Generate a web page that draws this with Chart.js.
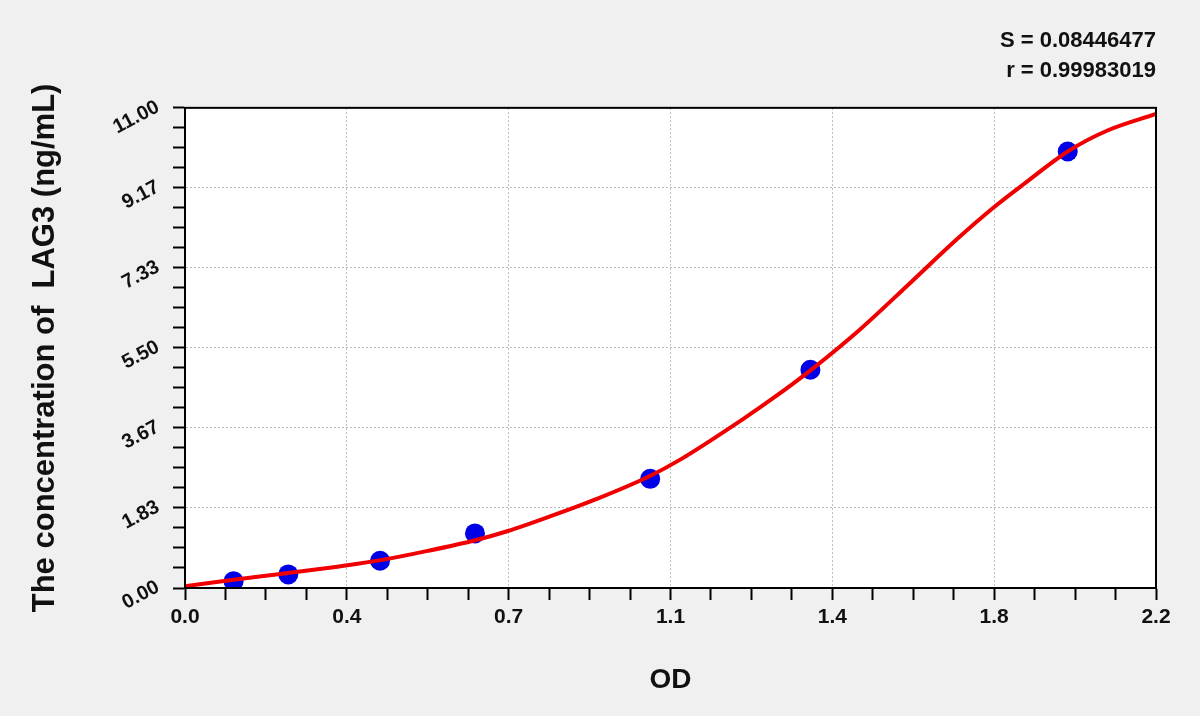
<!DOCTYPE html>
<html>
<head>
<meta charset="utf-8">
<script src="https://cdn.jsdelivr.net/npm/chart.js@4.4.1/dist/chart.umd.min.js"></script>
<style>
  html, body { margin: 0; padding: 0; background: #f0f0f0; }
  #wrap { width: 1200px; height: 716px; }
</style>
</head>
<body>
<div id="wrap"><canvas id="c" width="1200" height="716"></canvas></div>
<script>
// ---- data ----
const standardOD   = [0.110, 0.234, 0.442, 0.657, 1.054, 1.417, 2.000];
const standardConc = [0.156, 0.312, 0.625, 1.25, 2.5, 5, 10];

const curveOD   = [0, 0.05, 0.11, 0.23, 0.36, 0.45, 0.55, 0.66, 0.73, 0.83, 0.93, 1.05, 1.12, 1.27, 1.33, 1.42, 1.53, 1.64, 1.75, 1.83, 1.90, 2.00, 2.09, 2.20];
const curveConc = [0.04, 0.11, 0.19, 0.34, 0.51, 0.65, 0.85, 1.10, 1.30, 1.65, 2.03, 2.55, 2.93, 3.91, 4.33, 5.01, 5.93, 6.96, 8.00, 8.70, 9.25, 10.0, 10.48, 10.86];

const xTickLabels = ['0.0', '0.4', '0.7', '1.1', '1.4', '1.8', '2.2'];
const yTickLabels = ['0.00', '1.83', '3.67', '5.50', '7.33', '9.17', '11.00'];
const xMax = 2.2;
const yMax = 11;
const statsText = ['S = 0.08446477', 'r = 0.99983019'];
const xTitle = 'OD';
const yTitle = 'The concentration of  LAG3 (ng/mL)';

// ---- helpers ----
const SUB = 4; // minor divisions per major
const FONT = "'Liberation Sans', Arial, sans-serif";

function makeTicks(max, labels) {
  const n = (labels.length - 1) * SUB;
  return function (scale) {
    const t = [];
    for (let i = 0; i <= n; i++) t.push({ value: i * max / n });
    scale.ticks = t;
  };
}
function gridColor(labels) {
  const n = (labels.length - 1) * SUB;
  return (ctx) => (ctx.index % SUB === 0 && ctx.index !== 0 && ctx.index !== n) ? '#bdbdbd' : 'rgba(0,0,0,0)';
}

const framePlugin = {
  id: 'frame',
  beforeDraw(chart) {
    const { ctx, chartArea: a } = chart;
    ctx.save();
    ctx.fillStyle = '#f0f0f0';
    ctx.fillRect(0, 0, chart.width, chart.height);
    ctx.fillStyle = '#ffffff';
    ctx.fillRect(a.left, a.top, a.right - a.left, a.bottom - a.top);
    ctx.restore();
  },
  afterDraw(chart) {
    const { ctx, chartArea: a } = chart;
    ctx.save();
    ctx.strokeStyle = '#000';
    ctx.lineWidth = 2;
    ctx.strokeRect(a.left, a.top, a.right - a.left, a.bottom - a.top);
    ctx.restore();
  }
};

new Chart(document.getElementById('c'), {
  type: 'scatter',
  data: {
    datasets: [
      {
        label: 'fit',
        data: curveOD.map((x, i) => ({ x, y: curveConc[i] })),
        showLine: true,
        borderColor: '#f00000',
        borderWidth: 4,
        pointRadius: 0,
        cubicInterpolationMode: 'monotone',
        fill: false
      },
      {
        label: 'standards',
        data: standardOD.map((x, i) => ({ x, y: standardConc[i] })),
        backgroundColor: '#0000e6',
        borderColor: '#0000e6',
        pointRadius: 10,
        pointBorderWidth: 0
      }
    ]
  },
  options: {
    responsive: false,
    animation: false,
    devicePixelRatio: 1,
    layout: { padding: { top: 26, right: 44, bottom: 0, left: 0 } },
    plugins: {
      legend: { display: false },
      tooltip: { enabled: false },
      title: {
        display: true,
        text: statsText,
        align: 'end',
        color: '#111',
        font: { family: FONT, size: 22, weight: 'bold', lineHeight: 1.36 },
        padding: { top: 0, bottom: 22 }
      }
    },
    scales: {
      x: {
        type: 'linear',
        min: 0,
        max: xMax,
        afterBuildTicks: makeTicks(xMax, xTickLabels),
        afterFit: (s) => { s.height = 128; },
        ticks: {
          autoSkip: false,
          maxRotation: 0,
          minRotation: 0,
          padding: 5,
          color: '#111',
          font: { family: FONT, size: 21, weight: 'bold' },
          callback: (v, i) => (i % SUB === 0 ? xTickLabels[i / SUB] : '')
        },
        grid: {
          color: gridColor(xTickLabels),
          lineWidth: 1,
          drawTicks: true,
          tickLength: 12,
          tickColor: '#000',
          tickWidth: 2
        },
        border: { display: true, color: '#000', width: 2, dash: [2, 2] },
        title: {
          display: true,
          text: xTitle,
          color: '#111',
          font: { family: FONT, size: 28, weight: 'bold', lineHeight: 1.2 },
          padding: { top: 0, bottom: 19 }
        }
      },
      y: {
        type: 'linear',
        min: 0,
        max: yMax,
        afterBuildTicks: makeTicks(yMax, yTickLabels),
        afterFit: (s) => { s.width = 185; },
        ticks: {
          autoSkip: false,
          minRotation: 28,
          maxRotation: 28,
          padding: 15,
          labelOffset: -2,
          color: '#111',
          font: { family: FONT, size: 20, weight: 'bold' },
          callback: (v, i) => (i % SUB === 0 ? yTickLabels[i / SUB] : '')
        },
        grid: {
          color: gridColor(yTickLabels),
          lineWidth: 1,
          drawTicks: true,
          tickLength: 12,
          tickColor: '#000',
          tickWidth: 2
        },
        border: { display: true, color: '#000', width: 2, dash: [2, 2] },
        title: {
          display: true,
          text: yTitle,
          color: '#111',
          font: { family: FONT, size: 31, weight: 'bold', lineHeight: 1.2 },
          padding: { top: 27, bottom: 0 }
        }
      }
    }
  },
  plugins: [framePlugin]
});
</script>
</body>
</html>
